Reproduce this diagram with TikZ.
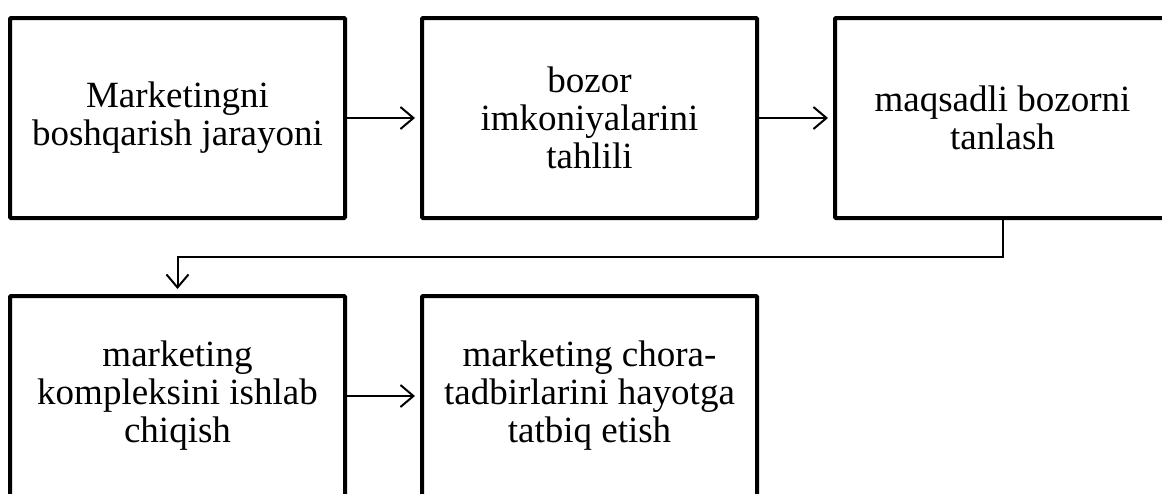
\documentclass[tikz,border=0pt]{standalone}
\usepackage{fontspec}
\setmainfont{Liberation Serif}
\usetikzlibrary{arrows.meta}
\begin{document}
\begin{tikzpicture}[x=1pt,y=-1pt,
  box/.style={draw,line width=4pt,rounded corners=1pt,minimum width=335pt,minimum height=200pt,
    inner sep=0pt,outer sep=0pt,align=center,font=\fontsize{37}{38}\selectfont},
  conn/.style={line width=2pt,-{Straight Barb[length=13pt,width=22pt,line width=2pt]}}]
\useasboundingbox (0,0) rectangle (1162,493);
\clip (0,0) rectangle (1162,493);
\node[box] (b1) at (177.5,118) {Marketingni\\boshqarish jarayoni};
\node[box] (b2) at (589.5,118) {bozor\\imkoniyalarini\\tahlili};
\node[box] (b3) at (1002.5,118) {maqsadli bozorni\\tanlash};
\node[box] (b4) at (177.5,396) {marketing\\kompleksini ishlab\\chiqish};
\node[box] (b5) at (589.5,396) {marketing chora-\\tadbirlarini hayotga\\tatbiq etish};
\coordinate (k1) at (1002.5,257);
\coordinate (k2) at (177.5,257);
\draw[conn,shorten >=7pt] (b1.east) -- (b2.west);
\draw[conn,shorten >=7pt] (b2.east) -- (b3.west);
\draw[conn,shorten >=7pt] (b3.south) -- (k1) -- (k2) -- (b4.north);
\draw[conn,shorten >=7pt] (b4.east) -- (b5.west);
\end{tikzpicture}
\end{document}
